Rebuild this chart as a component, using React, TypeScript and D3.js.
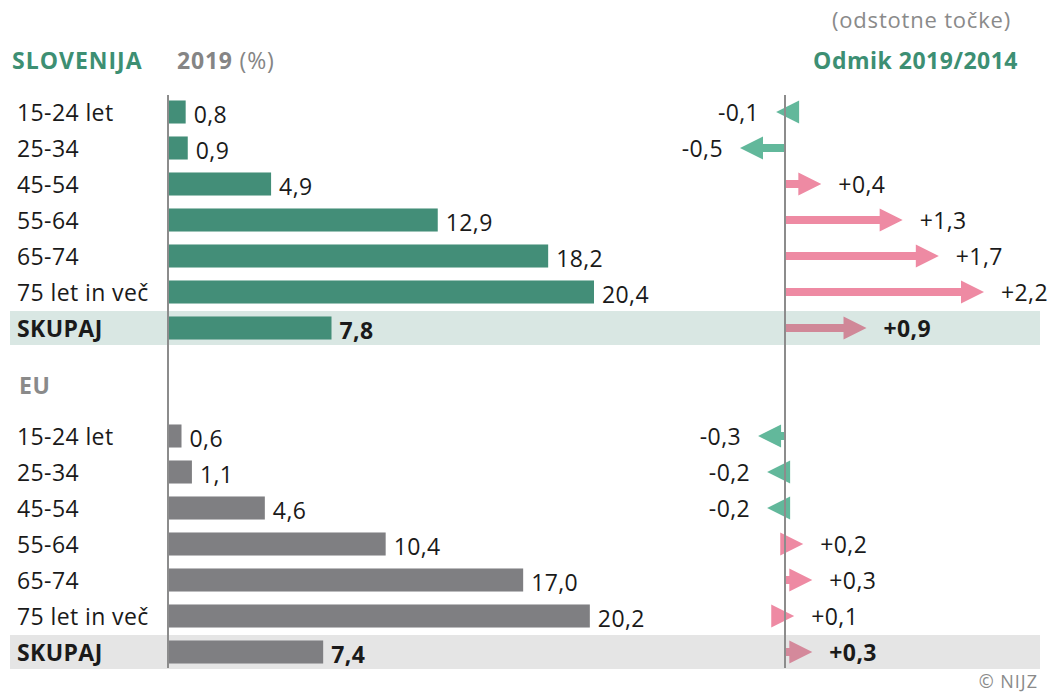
import React from 'react';
import * as d3 from 'd3';

const categories = ['15-24 let', '25-34', '45-54', '55-64', '65-74', '75 let in več', 'SKUPAJ'];
const sloValues = [0.8, 0.9, 4.9, 12.9, 18.2, 20.4, 7.8];
const sloChange = [-0.1, -0.5, 0.4, 1.3, 1.7, 2.2, 0.9];
const euValues = [0.6, 1.1, 4.6, 10.4, 17.0, 20.2, 7.4];
const euChange = [-0.3, -0.2, -0.2, 0.2, 0.3, 0.1, 0.3];

const fmt = (v: number) => v.toFixed(1).replace('.', ',');
const fmtSigned = (v: number) => (v > 0 ? '+' : '') + fmt(v);

const W = 1050;
const H = 698;
const FONT = "'Open Sans', 'Noto Sans', sans-serif";

const xBar = d3.scaleLinear().domain([0, 20.4]).range([169, 594]);
const xChg = d3.scaleLinear().domain([-0.5, 2.2]).range([740, 984]);
const AXIS_X = 785;
const HEAD_LEN = 23;
const HEAD_H = 23;
const SHAFT_H = 8;

const arrowPath = (v: number, cy: number) => {
  const x0 = xChg(0);
  const tip = xChg(v);
  const dir = v >= 0 ? 1 : -1;
  const base = tip - dir * HEAD_LEN;
  const path = d3.path();
  // shaft only if the arrow is longer than its head
  if ((base - x0) * dir > 0) {
    path.rect(Math.min(x0, base), cy - SHAFT_H / 2, Math.abs(base - x0), SHAFT_H);
  }
  path.moveTo(base, cy - HEAD_H / 2);
  path.lineTo(tip, cy);
  path.lineTo(base, cy + HEAD_H / 2);
  path.closePath();
  return path.toString();
};

interface PanelProps {
  top: number;
  values: number[];
  changes: number[];
  barColor: string;
  bandColor: string;
  totalArrowColor: string;
}

const Panel: React.FC<PanelProps> = ({ top, values, changes, barColor, bandColor, totalArrowColor }) => {
  const y = d3.scaleBand<string>()
    .domain(categories)
    .range([top, top + 36 * categories.length])
    .paddingInner(0.36)
    .paddingOuter(0.18);
  const total = categories[categories.length - 1];
  const totalY = (y(total) ?? 0) + y.bandwidth() / 2;
  return (
    <g>
      <rect x={10} y={totalY - 17} width={1030} height={34} fill={bandColor} />
      {categories.map((c, i) => {
        const cy = (y(c) ?? 0) + y.bandwidth() / 2;
        const isTotal = c === total;
        const v = changes[i];
        const tip = xChg(v);
        const weight = isTotal ? 700 : 400;
        return (
          <g key={c} fontSize={23} letterSpacing={0.4}>
            <text x={17} y={cy + 9} fontWeight={weight} fill="#1a1a1a">{c}</text>
            <rect x={xBar(0)} y={y(c)} width={xBar(values[i]) - xBar(0)} height={y.bandwidth()} fill={barColor} />
            <text x={xBar(values[i]) + 8} y={cy + 11} fontWeight={weight} fill="#1a1a1a">{fmt(values[i])}</text>
            <path d={arrowPath(v, cy)} fill={isTotal ? totalArrowColor : v < 0 ? '#62b89b' : '#ee8aa3'} />
            <text
              x={v < 0 ? tip - 17 : tip + 17}
              y={cy + 9}
              fontWeight={weight}
              textAnchor={v < 0 ? 'end' : 'start'}
              fill="#1a1a1a"
            >{fmtSigned(v)}</text>
          </g>
        );
      })}
    </g>
  );
};

export default function App() {
  return (
    <svg width={W} height={H} style={{ display: 'block', position: 'absolute', left: 0, top: 0 }} fontFamily={FONT}>
      <rect width={W} height={H} fill="#fff" />
      <text x={12} y={69} fontSize={23} letterSpacing={1} fontWeight={700} fill="#3d8f73">SLOVENIJA</text>
      <text x={177} y={69} fontSize={23} letterSpacing={0.8} fill="#858585">
        <tspan fontWeight={700}>2019</tspan> (%)
      </text>
      <text x={1011} y={28} fontSize={22} letterSpacing={0.8} fill="#8a8a8a" textAnchor="end">(odstotne točke)</text>
      <text x={1018} y={69} fontSize={23} letterSpacing={0.5} fontWeight={700} fill="#3d8f73" textAnchor="end">Odmik 2019/2014</text>
      <text x={19} y={394} fontSize={23} letterSpacing={0.5} fontWeight={700} fill="#8a8a8a">EU</text>

      <Panel top={94} values={sloValues} changes={sloChange} barColor="#438e78" bandColor="#d9e7e3" totalArrowColor="#d08898" />
      <Panel top={418} values={euValues} changes={euChange} barColor="#7f7f82" bandColor="#e5e5e5" totalArrowColor="#d4899b" />

      <line x1={168} x2={168} y1={95} y2={668} stroke="#8c8c8c" strokeWidth={2} />
      <line x1={AXIS_X} x2={AXIS_X} y1={95} y2={668} stroke="#8c8c8c" strokeWidth={2} />

      <text x={1038} y={688} fontSize={18} letterSpacing={1} fill="#8a8a8a" textAnchor="end">© NIJZ</text>
    </svg>
  );
}
